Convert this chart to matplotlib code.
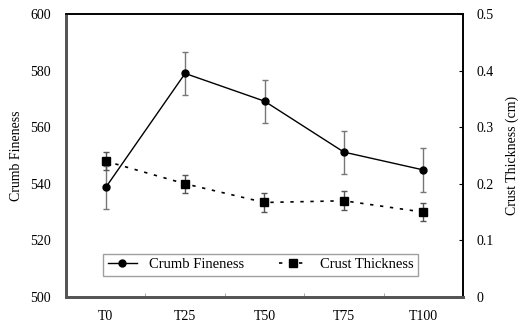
import matplotlib
matplotlib.use("Agg")
import matplotlib.pyplot as plt
from matplotlib.lines import Line2D

categories = ["T0", "T25", "T50", "T75", "T100"]
crumb = [538.7, 579.0, 569.2, 551.2, 544.9]
crumb_err = [7.6, 7.6, 7.6, 7.6, 7.7]
crust = [0.240, 0.200, 0.167, 0.170, 0.150]
crust_err = [0.016, 0.016, 0.016, 0.017, 0.016]
left_ticks = [500, 520, 540, 560, 580, 600]
right_ticks = [0, 0.1, 0.2, 0.3, 0.4, 0.5]
right_labels = ["0", "0.1", "0.2", "0.3", "0.4", "0.5"]

plt.rcParams['font.family'] = ['Liberation Serif', 'DejaVu Serif']

fig = plt.figure(figsize=(5.21, 3.23), dpi=100)
ax = fig.add_axes([66/521, 1-297/323, (463-66)/521, (297-14)/323])
ax2 = ax.twinx()

x = list(range(len(categories)))

ax.errorbar(x, crumb, yerr=crumb_err, color='black', marker='o', markersize=5,
            linewidth=1, ecolor='#777777', elinewidth=1, capsize=2.5, capthick=1, zorder=3)
ax2.errorbar(x, crust, yerr=crust_err, color='black', marker='s', markersize=6,
             linewidth=1.2, linestyle=(0, (2, 4)), ecolor='#555555', elinewidth=1,
             capsize=2.5, capthick=1, zorder=3)

ax.set_xlim(-0.5, 4.5)
ax.set_ylim(500, 600)
ax2.set_ylim(0, 0.5)

ax.set_xticks(x)
ax.set_xticklabels(categories, fontsize=10)
ax.set_xticks([0.5, 1.5, 2.5, 3.5], minor=True)
ax.tick_params(axis='x', which='major', length=0, pad=9)
ax.tick_params(axis='x', which='minor', direction='in', length=3, color='#999999')

ax.set_yticks(left_ticks)
ax.set_yticklabels([str(v) for v in left_ticks], fontsize=10)
ax.tick_params(axis='y', length=0, pad=11)

ax2.set_yticks(right_ticks)
ax2.set_yticklabels(right_labels, fontsize=10)
ax2.tick_params(axis='y', direction='in', length=3, pad=10)

ax.set_ylabel("Crumb Fineness", fontsize=10, labelpad=5)
ax2.set_ylabel("Crust Thickness (cm)", fontsize=10, labelpad=8)

for a in (ax, ax2):
    a.spines['left'].set_color('#555555')
    a.spines['left'].set_linewidth(2)
    a.spines['bottom'].set_color('#555555')
    a.spines['bottom'].set_linewidth(2)
    a.spines['top'].set_color('black')
    a.spines['top'].set_linewidth(1.2)
    a.spines['right'].set_color('black')
    a.spines['right'].set_linewidth(1.2)

handles = [
    Line2D([0], [0], color='black', marker='o', markersize=5, linewidth=1),
    Line2D([0], [0], color='black', marker='s', markersize=6, linewidth=1.2, linestyle=(0, (2, 4))),
]
leg = ax.legend(handles, ["Crumb Fineness", "Crust Thickness"], loc='lower center',
                bbox_to_anchor=(0.49, 0.05), ncol=2, fontsize=10.5, frameon=True,
                fancybox=False, edgecolor='#888888', handlelength=2.0,
                columnspacing=2.4, borderpad=0.3)
leg.get_frame().set_linewidth(1)

fig.savefig("out.png", dpi=100)
